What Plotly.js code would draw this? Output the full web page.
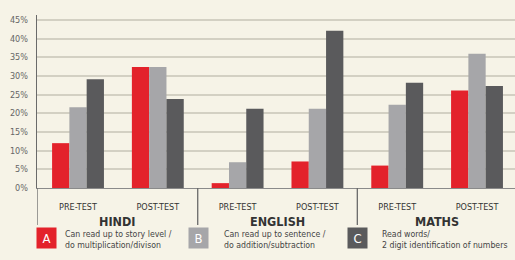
<!DOCTYPE html>
<html><head><meta charset="utf-8">
<script src="https://cdn.plot.ly/plotly-3.0.1.min.js"></script>
<style>html,body{margin:0;padding:0;background:#f6f3e7;}#chart{width:515px;height:260px;}</style>
</head><body><div id="chart"></div>
<script>
const subjects = ["HINDI", "ENGLISH", "MATHS"];
const tests = ["PRE-TEST", "POST-TEST"];
const seriesA = [12.0, 32.4, 1.3, 7.1, 6.0, 26.1];
const seriesB = [21.6, 32.4, 6.9, 21.2, 22.3, 35.9];
const seriesC = [29.1, 23.8, 21.2, 42.1, 28.2, 27.3];
const seriesLetters = ["A", "B", "C"];
const seriesNames = ["Can read up to story level /<br>do multiplication/divison",
                     "Can read up to sentence /<br>do addition/subtraction",
                     "Read words/<br>2 digit identification of numbers"];
const yTicks = [0, 5, 10, 15, 20, 25, 30, 35, 40, 45];

const colors = ["#e3222b", "#a6a6a9", "#5a5a5c"];
const FONT = "'DejaVu Sans Condensed', 'Liberation Sans Narrow', sans-serif";

const cats = [];
subjects.forEach(s => tests.forEach(t => cats.push(s + "|" + t)));
const tickText = [];
subjects.forEach(s => tests.forEach(t => tickText.push(t)));

const W = 515, H = 260, L = 37, R = 0, T = 15, B = 72;
const pw = W - L - R, ph = H - T - B;
const px = x => (x - L) / pw;
const py = y => (H - B - y) / ph;

const allSeries = [seriesA, seriesB, seriesC];
const traces = allSeries.map((vals, i) => ({
  type: "bar", x: cats, y: vals, name: seriesLetters[i],
  marker: {color: colors[i], line: {width: 0}}, showlegend: false, hoverinfo: "none"
}));

const shapes = [];
const annotations = [];
[-0.5, 1.5, 3.5].forEach((xv, k) => {
  shapes.push({type: "line", xref: "x", yref: "paper", x0: k === 0 ? -0.514 : xv, x1: k === 0 ? -0.514 : xv,
    y0: 0, y1: py(225), line: {color: "#6a6a6a", width: 1.3}});
});
subjects.forEach((s, i) => {
  annotations.push({xref: "x", yref: "paper", x: 2 * i + 0.5, y: py(221), text: "<b>" + s + "</b>",
    showarrow: false, font: {family: FONT, size: 12.5, color: "#333"}, yanchor: "middle"});
});
const boxX = [36, 188, 347], textX = [63, 222, 380];
seriesLetters.forEach((l, i) => {
  annotations.push({xref: "paper", yref: "paper", x: px(boxX[i]), y: py(238), xanchor: "left", yanchor: "middle",
    text: l, showarrow: false, bgcolor: colors[i], width: 19, height: 20, borderpad: 0,
    font: {family: FONT, size: 13, color: "#ffffff"}});
  annotations.push({xref: "paper", yref: "paper", x: px(textX[i]), y: py(239), xanchor: "left", yanchor: "middle",
    text: seriesNames[i], showarrow: false, align: "left",
    font: {family: FONT, size: 8.7, color: "#444"}});
});

const layout = {
  width: W, height: H, margin: {l: L, r: R, t: T, b: B},
  paper_bgcolor: "#f6f3e7", plot_bgcolor: "#f6f3e7",
  barmode: "group", bargap: 0.35, bargroupgap: 0,
  xaxis: {type: "category", range: [-0.514, 5.476], tickvals: cats, ticktext: tickText,
    showgrid: false, zeroline: false, showline: true, linecolor: "#8a8a8a", linewidth: 1.3,
    ticks: "", ticklabelstandoff: 10, tickfont: {family: FONT, size: 9, color: "#333"}},
  yaxis: {range: [0, 46.3], tickvals: yTicks, ticktext: yTicks.map(v => v + "%"),
    showgrid: true, gridcolor: "#d3d0c3", gridwidth: 2, zeroline: false,
    showline: true, linecolor: "#6a6a6a", linewidth: 1.3, ticks: "", ticklabelstandoff: 6,
    tickfont: {family: FONT, size: 9, color: "#666"}},
  shapes: shapes, annotations: annotations, hovermode: false
};
Plotly.newPlot("chart", traces, layout, {displayModeBar: false, staticPlot: true});
</script></body></html>
